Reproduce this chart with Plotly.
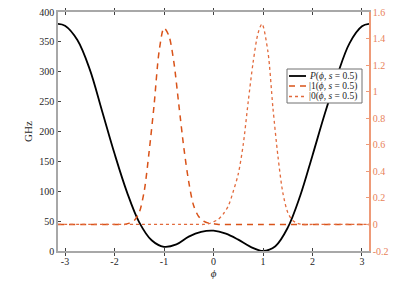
import plotly.graph_objects as go

# ---- data ----
phi_P = [-3.1416, -3.0, -2.75, -2.5, -2.25, -2.0, -1.75, -1.5, -1.25, -1.0, -0.75, -0.5, -0.25,
         0.0, 0.25, 0.5, 0.75, 1.0, 1.25, 1.5, 1.75, 2.0, 2.25, 2.5, 2.75, 3.0, 3.1416]
P_vals = [380, 377, 353, 304, 234, 163, 99, 48, 18, 7, 11, 24, 32,
          34, 29, 19, 7, 0, 8, 39, 92, 160, 230, 294, 348, 376, 380]

phi_psi = [-3.1416, -2.5, -2.0, -1.8, -1.7, -1.6, -1.5, -1.4, -1.3, -1.2, -1.1, -1.0,
           -0.9, -0.8, -0.7, -0.6, -0.5, -0.4, -0.3, -0.2, -0.1, 0.0, 0.1, 0.2, 0.3,
           0.4, 0.5, 0.6, 0.7, 0.8, 0.9, 0.98, 1.1, 1.2, 1.3, 1.4, 1.5, 1.6, 1.7, 1.8,
           2.0, 2.5, 3.1416]
psi1_vals = [0, 0, 0, 0, 0.01, 0.03, 0.09, 0.25, 0.55, 0.90, 1.30, 1.48,
             1.42, 1.22, 0.90, 0.58, 0.32, 0.14, 0.06, 0.025, 0.01, 0.005, 0, 0, 0,
             0, 0, 0, 0, 0, 0, 0, 0, 0, 0, 0, 0, 0, 0, 0,
             0, 0, 0]
psi0_vals = [0, 0, 0, 0, 0, 0, 0, 0, 0, 0, 0, 0,
             0, 0, 0, 0, 0, 0, 0, 0, 0.005, 0.02, 0.04, 0.08, 0.14,
             0.25, 0.38, 0.60, 0.92, 1.22, 1.44, 1.51, 1.30, 0.88, 0.52, 0.24, 0.09, 0.03, 0.008, 0,
             0, 0, 0]

x_tickvals = [-3, -2, -1, 0, 1, 2, 3]
x_ticktext = ["-3", "-2", "-1", "0", "1", "2", "3"]
y_tickvals = [0, 50, 100, 150, 200, 250, 300, 350, 400]
y2_tickvals = [-0.2, 0, 0.2, 0.4, 0.6, 0.8, 1.0, 1.2, 1.4, 1.6]
y2_ticktext = ["-0.2", "0", "0.2", "0.4", "0.6", "0.8", "1", "1.2", "1.4", "1.6"]

names = ["<i>P</i>(<i>ϕ</i>, <i>s</i> = 0.5)",
         "|1(<i>ϕ</i>, <i>s</i> = 0.5)",
         "|0(<i>ϕ</i>, <i>s</i> = 0.5)"]

C1 = "#D95319"
C0 = "#E26A3C"
CAX = "#EE9A78"
FONT = "Liberation Serif, Times New Roman, serif"

line_styles = [dict(color="black", width=1.8),
               dict(color=C1, width=1.5, dash="6px,5px"),
               dict(color=C0, width=1.3, dash="dot")]

fig = go.Figure()
fig.add_trace(go.Scatter(x=phi_P, y=P_vals, mode="lines", name=names[0],
                         line=dict(**line_styles[0], shape="spline", smoothing=1.0)))
fig.add_trace(go.Scatter(x=phi_psi, y=psi1_vals, mode="lines", name=names[1], yaxis="y2",
                         line=dict(**line_styles[1], shape="spline", smoothing=0.8)))
fig.add_trace(go.Scatter(x=phi_psi, y=psi0_vals, mode="lines", name=names[2], yaxis="y2",
                         line=dict(**line_styles[2], shape="spline", smoothing=0.8)))

# page body has an 8px margin; target plot box in window pixels
OFF = 8
W, H = 415 - OFF, 300 - OFF
L, R, T, B = 58, 369, 12, 251
def px(xp): return (xp - L) / (R - L)
def py(yp): return (B - yp) / (B - T)

shapes = [dict(type="rect", xref="paper", yref="paper",
               x0=px(287), x1=px(362), y0=py(103), y1=py(69),
               line=dict(color="#707070", width=1), fillcolor="white", layer="above")]
annotations = []
rows = [76, 86, 96.5]
for nm, st, ry in zip(names, line_styles, rows):
    shapes.append(dict(type="line", xref="paper", yref="paper",
                       x0=px(289), x1=px(306), y0=py(ry), y1=py(ry),
                       line=st, layer="above"))
    annotations.append(dict(text=nm, xref="paper", yref="paper", x=px(307), y=py(ry),
                            xanchor="left", yanchor="middle", showarrow=False,
                            font=dict(family=FONT, size=9.5, color="#262626")))

fig.update_layout(
    width=W, height=H,
    margin=dict(l=L - OFF, r=415 - R, t=T - OFF, b=300 - B, autoexpand=False),
    paper_bgcolor="white", plot_bgcolor="white",
    font=dict(family=FONT, size=10, color="#262626"),
    showlegend=False,
    shapes=shapes, annotations=annotations,
    xaxis=dict(range=[-3.1416, 3.1416], tickvals=x_tickvals, ticktext=x_ticktext,
               showgrid=False, zeroline=False, showline=True, linecolor="#a8a8a8", linewidth=1.5,
               mirror="allticks", ticks="inside", ticklen=3, tickcolor="#404040", automargin=False,
               ticklabeloverflow="allow",
               title=dict(text="<i>ϕ</i>", font=dict(family=FONT, size=11), standoff=2)),
    yaxis=dict(range=[0, 400], tickvals=y_tickvals,
               showgrid=False, zeroline=False, showline=True, linecolor="#a8a8a8", linewidth=1.5,
               ticks="inside", ticklen=3, tickcolor="#404040", automargin=False,
               ticklabeloverflow="allow",
               title=dict(text="GHz", font=dict(family=FONT, size=11), standoff=4)),
    yaxis2=dict(range=[-0.2, 1.6], tickvals=y2_tickvals, ticktext=y2_ticktext,
                overlaying="y", side="right", anchor="x", automargin=False,
                ticklabeloverflow="allow",
                showgrid=False, zeroline=False, showline=True, linecolor=CAX, linewidth=1.5,
                ticks="inside", ticklen=3, tickcolor=CAX,
                tickfont=dict(color="#E8825A", family=FONT, size=10)),
)

fig.write_html("out.html")
